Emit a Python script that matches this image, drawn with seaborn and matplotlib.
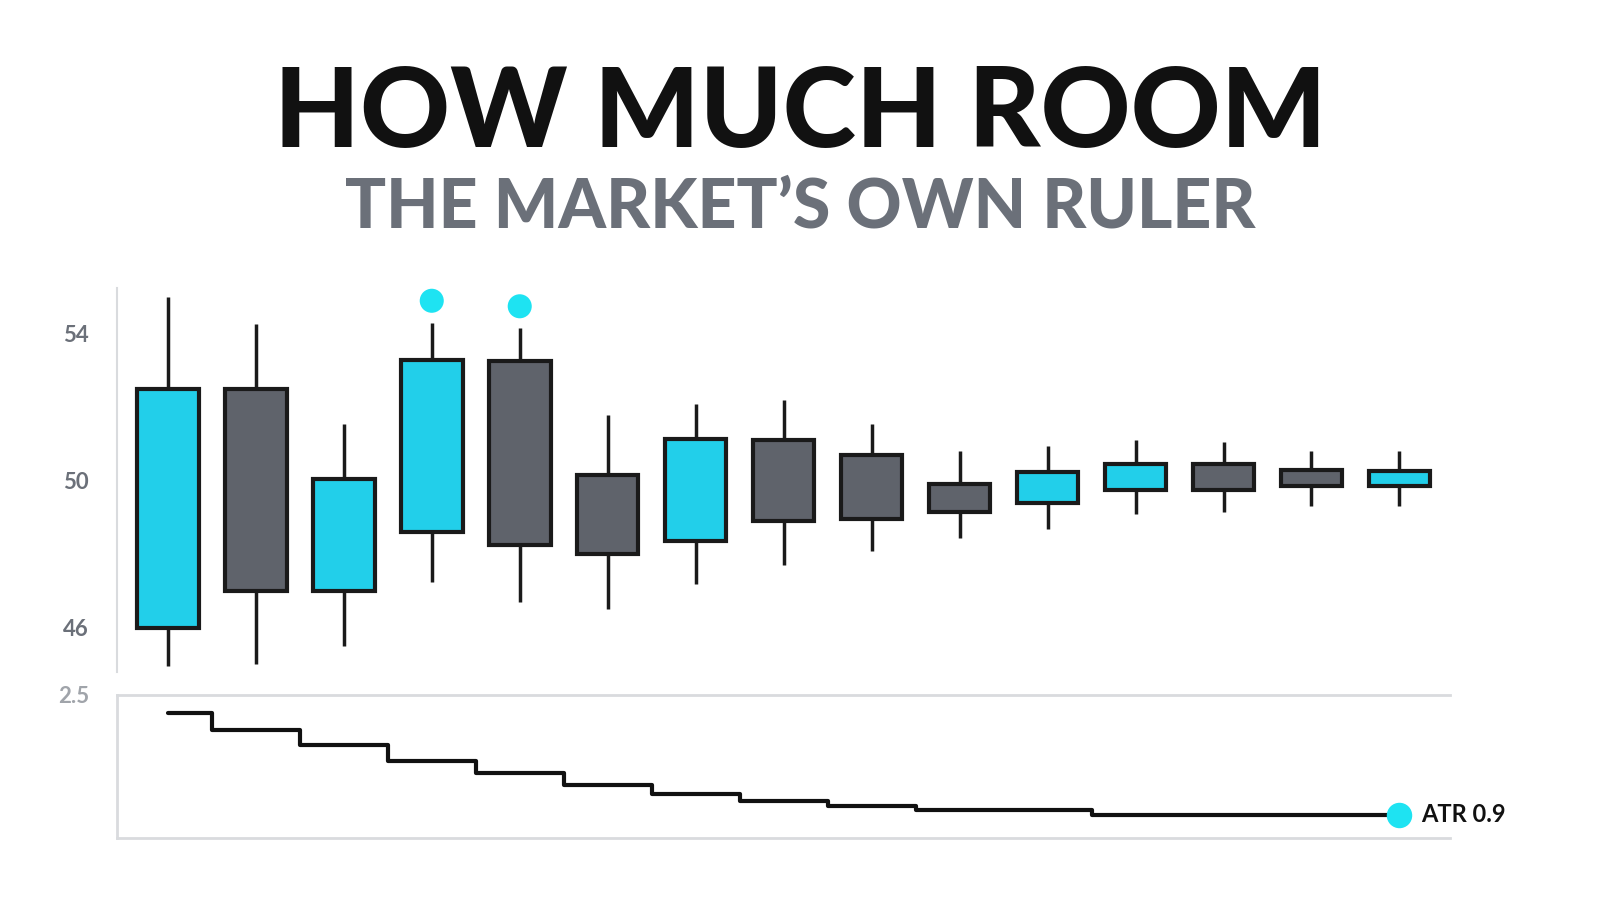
import matplotlib
matplotlib.use("Agg")
import matplotlib.pyplot as plt
import seaborn as sns
import numpy as np
import pandas as pd

sns.set_theme(style="white")
plt.rcParams['font.family'] = ['Lato', 'DejaVu Sans']

opens  = [46.0, 52.5, 47.0, 48.6, 53.25, 50.15, 48.35, 51.1, 50.7, 49.9, 49.4, 49.75, 50.45, 50.3, 49.85]
closes = [52.5, 47.0, 50.05, 53.3, 48.25, 48.0, 51.15, 48.9, 48.95, 49.15, 50.25, 50.45, 49.75, 49.85, 50.27]
highs  = [55.0, 54.27, 51.55, 54.3, 54.15, 51.8, 52.1, 52.2, 51.55, 50.8, 50.95, 51.1, 51.05, 50.8, 50.8]
lows   = [44.97, 45.0, 45.5, 47.25, 46.7, 46.5, 47.2, 47.7, 48.1, 48.45, 48.7, 49.1, 49.15, 49.3, 49.3]
dot_idx = [3, 4]
dot_vals = [54.9, 54.75]
atr = [2.26, 2.03, 1.83, 1.62, 1.46, 1.30, 1.18, 1.09, 1.02, 0.97, 0.97, 0.9, 0.9, 0.9, 0.9]
atr_label = "ATR 0.9"

CYAN = "#22cfea"
GRAY = "#5f636b"
EDGE = "#1a1a1a"
LIGHT = "#d9dbde"
TICK = "#6b7079"

fig = plt.figure(figsize=(16, 9.14), dpi=100)
fig.text(0.5, 0.875, "HOW MUCH ROOM", ha="center", va="center", fontsize=80, fontweight="black", color="#111111")
fig.text(0.5, 0.772, "THE MARKET\u2019S OWN RULER", ha="center", va="center", fontsize=49, fontweight="black", color=TICK)

ax = fig.add_axes([0.073, 0.265, 0.833, 0.42])
x = np.arange(len(opens))
o = np.array(opens); c = np.array(closes)
colors = [CYAN if cc >= oo else GRAY for oo, cc in zip(o, c)]
ax.vlines(x, lows, highs, color=EDGE, linewidth=2.5, zorder=1)
ax.bar(x, np.abs(c - o), bottom=np.minimum(o, c), width=0.7, color=colors, edgecolor=EDGE, linewidth=3, zorder=2)
sns.scatterplot(x=dot_idx, y=dot_vals, ax=ax, color="#1ee3f2", s=300, edgecolor="none", zorder=3)
ax.set_xlim(-0.58, 14.57)
ax.set_ylim(44.8, 55.25)
ax.set_yticks([46, 50, 54])
ax.set_xticks([])
for s in ["top", "right", "bottom"]:
    ax.spines[s].set_visible(False)
ax.spines["left"].set_color(LIGHT)
ax.spines["left"].set_linewidth(1.5)
ax.tick_params(axis="y", length=0, labelsize=16, labelcolor=TICK, pad=20)
for t in ax.get_yticklabels():
    t.set_fontweight("bold")

ax2 = fig.add_axes([0.073, 0.083, 0.833, 0.157])
df = pd.DataFrame({"x": x, "atr": atr})
sns.lineplot(data=df, x="x", y="atr", ax=ax2, drawstyle="steps-mid", color="#111111", linewidth=3)
ax2.scatter([x[-1]], [atr[-1]], s=300, color="#1ee3f2", zorder=5, clip_on=False)
ax2.text(x[-1] + 0.25, atr[-1], atr_label, va="center", ha="left", fontsize=17, fontweight="bold", color="#111111")
ax2.set_xlim(-0.58, 14.57)
ax2.set_ylim(0.59, 2.5)
ax2.set_yticks([2.5])
ax2.set_yticklabels(["2.5"])
ax2.set_xticks([])
ax2.set_xlabel(""); ax2.set_ylabel("")
ax2.spines["right"].set_visible(False)
for s in ["top", "left", "bottom"]:
    ax2.spines[s].set_color(LIGHT)
    ax2.spines[s].set_linewidth(2)
ax2.tick_params(axis="y", length=0, labelsize=16, labelcolor="#a0a4aa", pad=20)
for t in ax2.get_yticklabels():
    t.set_fontweight("bold")

fig.savefig("out.png", dpi=100, facecolor="white")
